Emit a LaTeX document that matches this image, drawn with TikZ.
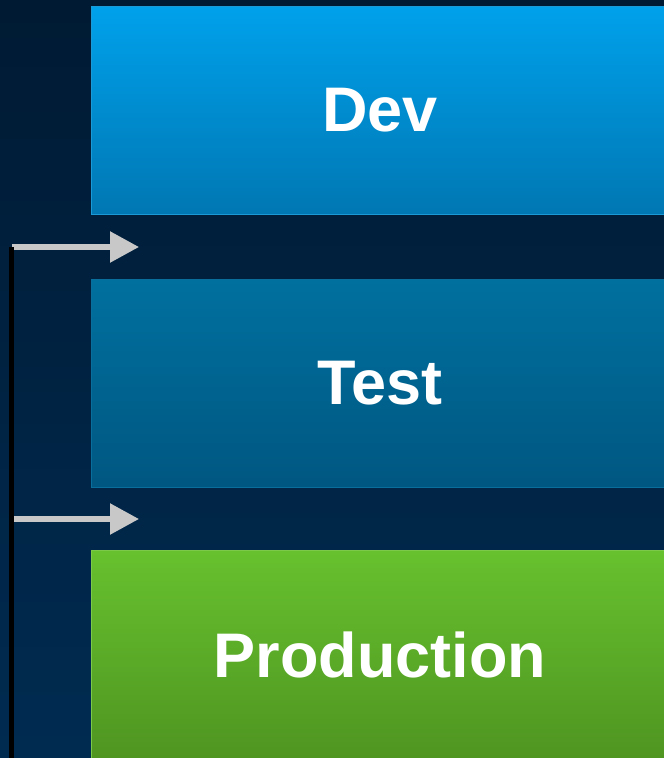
\documentclass[tikz,border=0pt]{standalone}
\usepackage{fontspec}
\setmainfont{Liberation Sans}
\usetikzlibrary{arrows.meta}

\definecolor{bgtop}{HTML}{001A33}
\definecolor{bgbot}{HTML}{002B51}
\definecolor{devtop}{HTML}{00A1EB}
\definecolor{devbot}{HTML}{0077B3}
\definecolor{devrim}{HTML}{1A9AD6}
\definecolor{testtop}{HTML}{00709F}
\definecolor{testbot}{HTML}{005781}
\definecolor{testrim}{HTML}{0A6E9C}
\definecolor{prodtop}{HTML}{67C12E}
\definecolor{prodbot}{HTML}{4F9521}
\definecolor{prodrim}{HTML}{7CC94A}
\definecolor{arrowgray}{HTML}{C8C8C8}

\tikzset{
  stage/.style={minimum width=578pt, minimum height=208pt, inner sep=0pt,
    text=white, line width=1pt,
    font=\fontsize{63}{63}\selectfont\bfseries},
  promote/.style={arrowgray, line width=5.5pt,
    -{Triangle[length=29pt,width=30pt]}},
  spine/.style={black, line width=5pt}
}

\begin{document}
\begin{tikzpicture}[x=1pt,y=-1pt]
   \useasboundingbox (0,0) rectangle (664,758);
   \clip (0,0) rectangle (664,758);
   \shade[top color=bgtop, bottom color=bgbot] (0,0) rectangle (664,758);
   % stages
   \node[stage, draw=devrim, top color=devtop, bottom color=devbot]
      (dev) at (380,110.5) {Dev};
   \node[stage, draw=testrim, top color=testtop, bottom color=testbot]
      (test) at (380,383.5) {Test};
   \node[stage, draw=prodrim, top color=prodtop, bottom color=prodbot]
      (prod) at (380,654.5) {Production};
   % promotion arrows
   \coordinate (a1) at (12,247);
   \coordinate (b1) at (139,247);
   \coordinate (a2) at (14,519);
   \coordinate (b2) at (139,519);
   \coordinate (foot) at (11.5,758);
   \draw[promote] (a1) -- (b1);
   \draw[promote] (a2) -- (b2);
   \draw[spine] (11.5,247) -- (foot);
\end{tikzpicture}
\end{document}
